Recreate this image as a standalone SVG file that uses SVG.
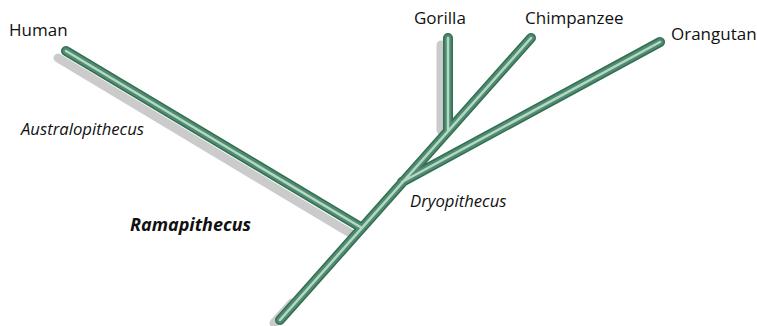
<svg xmlns="http://www.w3.org/2000/svg" xmlns:xlink="http://www.w3.org/1999/xlink" width="757" height="326" viewBox="0 0 757 326">
<style>
text{font-family:"Open Sans","Liberation Sans",sans-serif;fill:#111111}
.lbl{font-size:17px}
.it{font-size:16.7px;font-style:italic}
.bi{font-size:18px;font-style:italic;font-weight:bold}
.sh{fill:none;stroke:#cbcbcb;stroke-width:9;stroke-linecap:round}
.o{fill:none;stroke:#336e55;stroke-width:10;stroke-linecap:round}
.m{fill:none;stroke:#508c71;stroke-width:7;stroke-linecap:round}
.i{fill:none;stroke:#b6d7c4;stroke-width:2.5;stroke-linecap:round}
</style>
<defs>
<path id="tree" d="M280,320 L531,38 M66,51 L362,228 M448,38 L448,131 M660,42 L402,182"/>
</defs>
<rect width="757" height="326" fill="#ffffff"/>
<g id="connectors">
<path class="sh" d="M58,58 L350,233"/>
<path class="sh" d="M441,45 L441,130"/>
<path class="sh" d="M274,323 L292,303"/>
<use xlink:href="#tree" class="o"/>
<use xlink:href="#tree" class="m"/>
<use xlink:href="#tree" class="i"/>
</g>
<g id="human"><text class="lbl" x="9" y="36">Human</text></g>
<g id="gorilla"><text class="lbl" x="414" y="24">Gorilla</text></g>
<g id="chimpanzee"><text class="lbl" x="525" y="24">Chimpanzee</text></g>
<g id="orangutan"><text class="lbl" x="671" y="40">Orangutan</text></g>
<g id="australopithecus"><text class="it" x="21" y="135">Australopithecus</text></g>
<g id="ramapithecus"><text class="bi" x="130" y="231">Ramapithecus</text></g>
<g id="dryopithecus"><text class="it" x="410" y="207">Dryopithecus</text></g>
</svg>
